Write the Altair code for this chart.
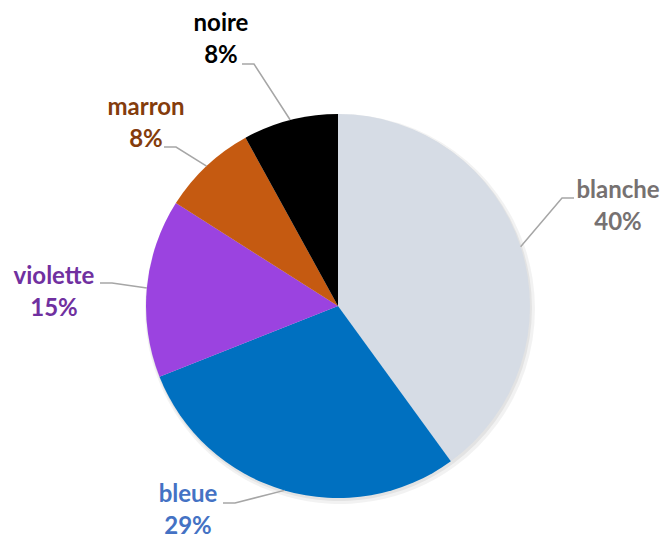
import math
import altair as alt
import pandas as pd

# ---- data ----
categories = ["blanche", "bleue", "violette", "marron", "noire"]
values = [40, 29, 15, 8, 8]
pct_labels = ["40%", "29%", "15%", "8%", "8%"]

# ---- styles ----
slice_colors = ["#D6DCE5", "#0070C0", "#9B43E0", "#C55A11", "#000000"]
label_colors = ["#767171", "#4472C4", "#7030A0", "#843C0C", "#000000"]

# ---- layout (pixels, relative to the pie centre) ----
W, H = 654, 533
CX, CY, R = 330, 298, 192
label_offset = [(280, -99), (-150, 205), (-284, -13), (-192, -182), (-117, -266)]
leader_end = [(236, -108), (-115, 197), (-238, -23), (-174, -159), (-96, -242)]

df = pd.DataFrame({"cat": categories, "value": values, "idx": range(len(values)),
                   "pct": pct_labels})

# leader lines: slice edge at the mid-angle -> elbow -> end near label
total = sum(values)
rows = []
cum = 0
for i, v in enumerate(values):
    mid = (cum + v / 2) / total * 2 * math.pi
    cum += v
    ex, ey = CX + R * math.sin(mid), CY - R * math.cos(mid)
    endx, endy = CX + leader_end[i][0], CY + leader_end[i][1]
    elbx = endx + (12 if endx < CX else -12)
    for k, (px, py) in enumerate([(endx, endy), (elbx, endy), (ex, ey)]):
        rows.append({"cat": categories[i], "k": k, "x": px, "y": py})
lines_df = pd.DataFrame(rows)

lab_rows = []
for i, c in enumerate(categories):
    lx, ly = CX + label_offset[i][0], CY + label_offset[i][1]
    lab_rows.append({"cat": c, "t": c, "x": lx, "y": ly - 16})
    lab_rows.append({"cat": c, "t": pct_labels[i], "x": lx, "y": ly + 16})
lab_df = pd.DataFrame(lab_rows)

theta = alt.Theta("value:Q", stack=True)
order = alt.Order("idx:O", sort="ascending")

shadow1 = alt.Chart(df).mark_arc(radius=R + 3, color="#000000", opacity=0.05).encode(
    theta=theta, order=order, x=alt.value(CX + 2), y=alt.value(CY + 3))
shadow2 = alt.Chart(df).mark_arc(radius=R + 1, color="#000000", opacity=0.06).encode(
    theta=theta, order=order, x=alt.value(CX + 1), y=alt.value(CY + 2))

pie = alt.Chart(df).mark_arc(radius=R).encode(
    theta=theta,
    order=order,
    color=alt.Color("cat:N", scale=alt.Scale(domain=categories, range=slice_colors), legend=None),
    x=alt.value(CX), y=alt.value(CY),
)

leaders = alt.Chart(lines_df).mark_line(color="#A6A6A6", strokeWidth=1.5).encode(
    x=alt.X("x:Q", scale=None, axis=None),
    y=alt.Y("y:Q", scale=None, axis=None),
    detail="cat:N",
    order="k:Q",
)

labels = alt.Chart(lab_df).mark_text(font="Lato", fontSize=24, fontWeight="bold",
                                     align="center", baseline="middle").encode(
    x=alt.X("x:Q", scale=None, axis=None),
    y=alt.Y("y:Q", scale=None, axis=None),
    text="t:N",
    color=alt.Color("cat:N", scale=alt.Scale(domain=categories, range=label_colors), legend=None),
)

chart = alt.layer(shadow1, shadow2, pie, leaders, labels).resolve_scale(color="independent").properties(
    width=W, height=H, autosize=alt.AutoSizeParams(type="none"), padding=0
).configure_view(stroke=None)

chart.save("out.html", embed_options={"renderer": "svg", "actions": False})
